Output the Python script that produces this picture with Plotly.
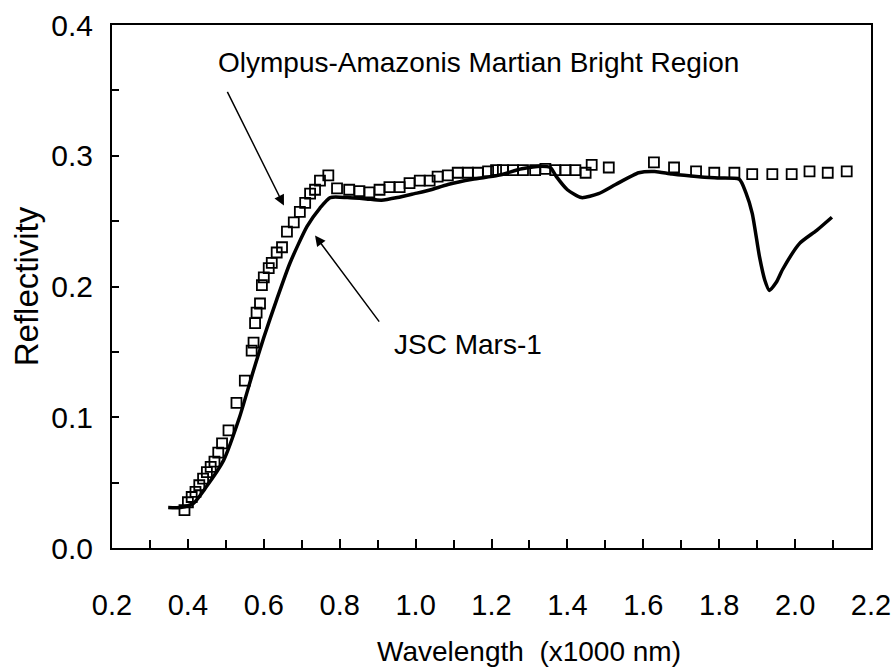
import plotly.graph_objects as go

# JSC Mars-1 (solid line)
jsc_x = [0.348, 0.38, 0.414, 0.449, 0.494, 0.536, 0.573, 0.600, 0.634, 0.669, 0.714, 0.748, 0.775,
         0.82, 0.87, 0.91, 0.952, 0.997, 1.04, 1.085, 1.15, 1.217, 1.28, 1.33, 1.355, 1.371, 1.40,
         1.437, 1.482, 1.527, 1.588, 1.63, 1.676, 1.747, 1.80, 1.853, 1.870, 1.887, 1.906, 1.920,
         1.932, 1.950, 1.967, 2.012, 2.057, 2.097]
jsc_y = [0.031, 0.031, 0.034, 0.047, 0.067, 0.100, 0.136, 0.161, 0.190, 0.218, 0.246, 0.260, 0.268,
         0.268, 0.267, 0.266, 0.268, 0.271, 0.274, 0.278, 0.282, 0.285, 0.290, 0.292, 0.291, 0.284, 0.274,
         0.268, 0.271, 0.278, 0.287, 0.288, 0.286, 0.284, 0.283, 0.282, 0.272, 0.256, 0.223, 0.205,
         0.197, 0.203, 0.213, 0.233, 0.243, 0.253]

# Olympus-Amazonis Martian Bright Region (open squares)
oa_x = [0.391, 0.40, 0.41, 0.42, 0.43, 0.44, 0.45, 0.46, 0.47, 0.48, 0.49, 0.507, 0.528, 0.550,
        0.568, 0.573, 0.577, 0.581, 0.590, 0.595, 0.600, 0.613, 0.621, 0.634, 0.648, 0.661, 0.679,
        0.695, 0.709, 0.722, 0.735, 0.748, 0.770, 0.793, 0.825, 0.852, 0.878, 0.905, 0.931, 0.958,
        0.984, 1.011, 1.037, 1.058, 1.085, 1.111, 1.138, 1.164, 1.191, 1.212, 1.230, 1.257, 1.283,
        1.315, 1.342, 1.368, 1.395, 1.421, 1.448, 1.464, 1.509, 1.628, 1.681, 1.739, 1.787, 1.840,
        1.887, 1.940, 1.991, 2.038, 2.086, 2.136]
oa_y = [0.029, 0.035, 0.039, 0.043, 0.048, 0.053, 0.058, 0.062, 0.066, 0.073, 0.080, 0.090, 0.111, 0.128,
        0.151, 0.157, 0.172, 0.180, 0.187, 0.201, 0.207, 0.214, 0.218, 0.226, 0.230, 0.242, 0.249,
        0.257, 0.264, 0.271, 0.274, 0.281, 0.285, 0.275, 0.274, 0.273, 0.272, 0.274, 0.276, 0.276,
        0.279, 0.281, 0.281, 0.284, 0.285, 0.287, 0.287, 0.287, 0.288, 0.289, 0.289, 0.289, 0.289,
        0.289, 0.290, 0.289, 0.289, 0.289, 0.287, 0.293, 0.291, 0.295, 0.291, 0.288, 0.287, 0.287,
        0.286, 0.286, 0.286, 0.288, 0.287, 0.288]

x_ticks = [0.2, 0.4, 0.6, 0.8, 1.0, 1.2, 1.4, 1.6, 1.8, 2.0, 2.2]
y_ticks = [0.0, 0.1, 0.2, 0.3, 0.4]

font_main = "Liberation Sans, Arial, sans-serif"

fig = go.Figure()
fig.add_trace(go.Scatter(x=oa_x, y=oa_y, mode="markers",
                         marker=dict(symbol="square-open", size=10, color="black",
                                     line=dict(width=1.8, color="black")),
                         name="Olympus-Amazonis Martian Bright Region", showlegend=False))
fig.add_trace(go.Scatter(x=jsc_x, y=jsc_y, mode="lines",
                         line=dict(color="black", width=3.5, shape="spline", smoothing=0.6),
                         name="JSC Mars-1", showlegend=False))

fig.add_annotation(x=0.653, y=0.262, ax=0.502, ay=0.350, xref="x", yref="y", axref="x", ayref="y",
                   showarrow=True, arrowhead=2, arrowsize=1.4, arrowwidth=1.5, arrowcolor="black", text="")
fig.add_annotation(x=0.735, y=0.239, ax=0.907, ay=0.172, xref="x", yref="y", axref="x", ayref="y",
                   showarrow=True, arrowhead=2, arrowsize=1.4, arrowwidth=1.5, arrowcolor="black", text="")
fig.add_annotation(x=1.167, y=0.371, xref="x", yref="y", showarrow=False,
                   text="Olympus-Amazonis Martian Bright Region",
                   font=dict(family=font_main, size=28, color="black"))
fig.add_annotation(x=0.937, y=0.156, xref="x", yref="y", showarrow=False, xanchor="left",
                   text="JSC Mars-1", font=dict(family=font_main, size=28, color="black"))
# x-axis title (placed slightly right of centre, as in the reference)
fig.add_annotation(x=0.549, y=-0.197, xref="paper", yref="paper", showarrow=False,
                   xanchor="center", yanchor="middle",
                   text="Wavelength  (x1000 nm)", font=dict(family=font_main, size=28, color="black"))

fig.update_layout(
    width=896, height=671,
    margin=dict(l=112, r=25, t=25, b=123),
    paper_bgcolor="white", plot_bgcolor="white",
    xaxis=dict(range=[0.2, 2.2], tickvals=x_ticks, ticktext=[f"{v:.1f}" for v in x_ticks],
               ticks="inside", ticklen=9, tickwidth=1.5, tickcolor="black",
               minor=dict(dtick=0.1, ticks="inside", ticklen=8, tickwidth=1.5, tickcolor="black"),
               showline=True, linecolor="black", linewidth=2, mirror=True, showgrid=False,
               zeroline=False, ticklabelstandoff=30, automargin=False,
               tickfont=dict(family=font_main, size=29, color="black")),
    yaxis=dict(range=[0.0, 0.4], tickvals=y_ticks, ticktext=[f"{v:.1f}" for v in y_ticks],
               ticks="inside", ticklen=7, tickwidth=1.5, tickcolor="black",
               minor=dict(dtick=0.05, ticks="inside", ticklen=7, tickwidth=1.5, tickcolor="black"),
               showline=True, linecolor="black", linewidth=2, mirror=True, showgrid=False,
               zeroline=False, ticklabelstandoff=11, automargin=False,
               tickfont=dict(family=font_main, size=30, color="black"),
               title=dict(text="Reflectivity", standoff=3,
                          font=dict(family=font_main, size=33, color="black"))),
)

fig.write_html("out.html", config={"displayModeBar": False},
               post_script="document.body.style.margin='0';")
